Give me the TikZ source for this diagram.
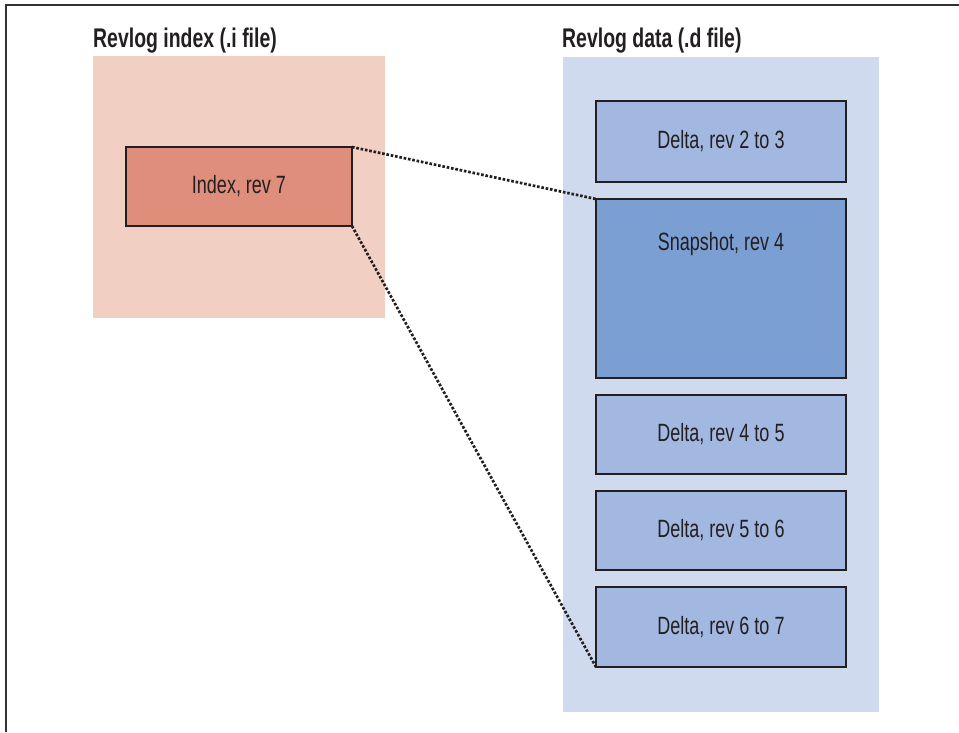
\documentclass[tikz,border=0pt]{standalone}
\usepackage{fontspec}
\setmainfont{Liberation Sans}[FakeStretch=0.72]
\usepackage{xcolor}
\usetikzlibrary{positioning}
\definecolor{idxbg}{HTML}{F2CFC3}
\definecolor{idxfill}{HTML}{DE8E7B}
\definecolor{databg}{HTML}{CFDAEF}
\definecolor{deltafill}{HTML}{A3B8E0}
\definecolor{snapfill}{HTML}{7B9FD3}
\definecolor{ink}{HTML}{231F20}
\newcommand{\boxfont}{\fontsize{25}{30}\selectfont}
\newcommand{\titlefont}{\fontsize{27}{32}\selectfont\bfseries}

\begin{document}
\begin{tikzpicture}[
    x=1pt, y=-1pt,
    node distance=17pt,
    panel/.style={anchor=north west, inner sep=0pt, outer sep=0pt},
    title/.style={anchor=base west, inner sep=0pt, text=ink, font=\titlefont},
    rev/.style={draw=ink, line width=2.8pt, inner sep=0pt, outer sep=0pt,
                minimum width=250pt, minimum height=80pt, text=ink, font=\boxfont},
    link/.style={ink, line width=2.7pt, dash pattern=on 2.6pt off 1.8pt}
  ]
    \useasboundingbox (0,0) rectangle (959,732);
    \draw[line width=2pt, black!80] (5.5,732) -- (5.5,4.5) -- (959,4.5);
    % the two files
    \node[title] (ititle) at (93,47) {Revlog index (.i file)};
    \node[title] (dtitle) at (562,47) {Revlog data (.d file)};
    \node[panel, fill=idxbg, minimum width=292pt, minimum height=262pt] (ipanel) at (93,56) {};
    \node[panel, fill=databg, minimum width=316pt, minimum height=655pt] (dpanel) at (563,57) {};
    % index entry
    \node[rev, fill=idxfill, minimum width=226pt, minimum height=79pt] (idx7) at (239,186.5) {Index, rev 7};
    % data chunks
    \node[rev, fill=deltafill, minimum height=81pt] (d23) at (721,141.5) {Delta, rev 2 to 3};
    \node[rev, fill=snapfill, minimum height=179pt, below=of d23] (snap4) {};
    \node[anchor=base, inner sep=0pt, text=ink, font=\boxfont] (snaptxt) at (721,250) {Snapshot, rev 4};
    \node[rev, fill=deltafill, minimum height=79pt, below=of snap4] (d45) {Delta, rev 4 to 5};
    \node[rev, fill=deltafill, minimum height=79pt, below=of d45] (d56) {Delta, rev 5 to 6};
    \node[rev, fill=deltafill, below=of d56] (d67) {Delta, rev 6 to 7};
    \draw[link] (idx7.north east) -- (snap4.north west);
    \draw[link] (idx7.south east) -- (d67.south west);
  \end{tikzpicture}
\end{document}
